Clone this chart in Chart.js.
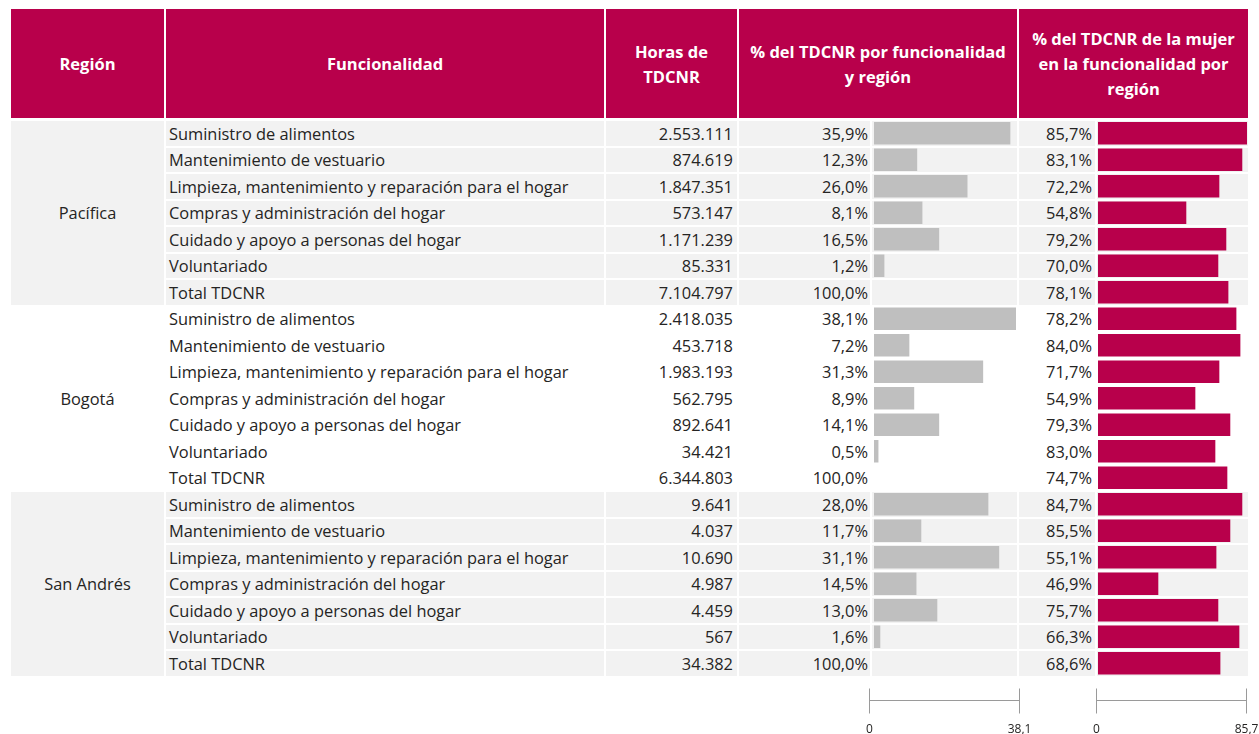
<!DOCTYPE html>
<html>
<head>
<meta charset="utf-8">
<script src="https://cdn.jsdelivr.net/npm/chart.js@4.4.1/dist/chart.umd.min.js"></script>
<style>
html,body{margin:0;padding:0;background:#fff;}
#wrap{position:relative;width:1259px;height:734px;overflow:hidden;font-family:"Open Sans",sans-serif;color:#252423;}
.cell{position:absolute;box-sizing:border-box;}
.bg{background:#f2f2f2;}
.hdr{position:absolute;box-sizing:border-box;background:#B8004B;color:#fff;font-weight:700;font-size:16.5px;line-height:25px;display:flex;align-items:center;justify-content:center;text-align:center;}
.txt{position:absolute;font-size:16.4px;white-space:nowrap;}
.chartbox{position:absolute;}
</style>
</head>
<body>
<div id="wrap"></div>
<script>
// ---------------- DATA ----------------
const headerLabels = [
  ['Región'],
  ['Funcionalidad'],
  ['Horas de', 'TDCNR'],
  ['% del TDCNR por funcionalidad', 'y región'],
  ['% del TDCNR de la mujer', 'en la funcionalidad por', 'región']
];
const regions = ['Pacífica', 'Bogotá', 'San Andrés'];
const functions = [
  'Suministro de alimentos',
  'Mantenimiento de vestuario',
  'Limpieza, mantenimiento y reparación para el hogar',
  'Compras y administración del hogar',
  'Cuidado y apoyo a personas del hogar',
  'Voluntariado',
  'Total TDCNR'
];
// Horas de TDCNR
const hoursPacifica  = [2553111, 874619, 1847351, 573147, 1171239, 85331, 7104797];
const hoursBogota    = [2418035, 453718, 1983193, 562795, 892641, 34421, 6344803];
const hoursSanAndres = [9641, 4037, 10690, 4987, 4459, 567, 34382];
// % del TDCNR por funcionalidad y región (labels)
const sharePacifica  = [35.9, 12.3, 26.0, 8.1, 16.5, 1.2, 100.0];
const shareBogota    = [38.1, 7.2, 31.3, 8.9, 14.1, 0.5, 100.0];
const shareSanAndres = [28.0, 11.7, 31.1, 14.5, 13.0, 1.6, 100.0];
// % del TDCNR de la mujer (labels)
const womenPacifica  = [85.7, 83.1, 72.2, 54.8, 79.2, 70.0, 78.1];
const womenBogota    = [78.2, 84.0, 71.7, 54.9, 79.3, 83.0, 74.7];
const womenSanAndres = [84.7, 85.5, 55.1, 46.9, 75.7, 66.3, 68.6];
// Bar lengths as drawn in the reference
const shareBarPacifica  = [36.5, 11.5, 25.0, 12.9, 17.4, 2.7, null];
const shareBarBogota    = [38.1, 9.4, 29.2, 10.7, 17.4, 1.1, null];
const shareBarSanAndres = [30.6, 12.6, 33.5, 11.3, 16.9, 1.6, null];
const womenBarPacifica  = [85.7, 82.8, 69.6, 50.6, 73.6, 69.0, 74.8];
const womenBarBogota    = [79.4, 81.7, 69.6, 55.8, 75.9, 67.3, 74.2];
const womenBarSanAndres = [82.8, 75.9, 67.9, 34.5, 69.0, 81.1, 70.2];
// Axis tick labels (min, max)
const shareAxisTicks = [0, 38.1];
const womenAxisTicks = [0, 85.7];

// ---------------- HELPERS ----------------
const hoursByRegion = [hoursPacifica, hoursBogota, hoursSanAndres];
const shareByRegion = [sharePacifica, shareBogota, shareSanAndres];
const womenByRegion = [womenPacifica, womenBogota, womenSanAndres];
const shareBars = [].concat(shareBarPacifica, shareBarBogota, shareBarSanAndres);
const womenBars = [].concat(womenBarPacifica, womenBarBogota, womenBarSanAndres);
const categories = [];
regions.forEach(r => functions.forEach(f => categories.push(r + ' – ' + f)));

const fmtInt = n => String(n).replace(/\B(?=(\d{3})+(?!\d))/g, '.');
const fmtPct = n => n.toFixed(1).replace('.', ',') + '%';
const fmtDec = n => String(n).replace('.', ',');

// ---------------- LAYOUT ----------------
const wrap = document.getElementById('wrap');
const HDR_TOP = 9, HDR_H = 109;
const ROWS_TOP = 121, PITCH = 26.5, GAP = 2;
const hdrCols = [[11,164],[166,604],[606,737],[739,1017],[1019,1248]];
const col = {
  region:[11,164], func:[166,604], hours:[606,737],
  shareTxt:[739,870], shareBar:[872,1017], womenTxt:[1019,1095], womenBar:[1097,1248]
};

function el(cls, x0, y0, w, h, html, style) {
  const d = document.createElement('div');
  d.className = cls;
  d.style.left = x0 + 'px'; d.style.top = y0 + 'px';
  d.style.width = w + 'px'; d.style.height = h + 'px';
  if (html !== undefined) d.innerHTML = html;
  if (style) Object.assign(d.style, style);
  wrap.appendChild(d);
  return d;
}

headerLabels.forEach((lines, i) => {
  const [a, b] = hdrCols[i];
  el('hdr', a, HDR_TOP, b - a, HDR_H, '<div>' + lines.join('<br>') + '</div>');
});

const rowTop = i => Math.round(ROWS_TOP + i * PITCH);
const rowBot = i => Math.round(ROWS_TOP + (i + 1) * PITCH) - GAP;

regions.forEach((reg, g) => {
  const shaded = g !== 1;
  const gTop = rowTop(g * 7), gBot = rowBot(g * 7 + 6);
  el('cell' + (shaded ? ' bg' : ''), col.region[0], gTop, col.region[1] - col.region[0], gBot - gTop);
  el('txt', col.region[0], gTop, col.region[1] - col.region[0], gBot - gTop, reg,
     {textAlign:'center', lineHeight:(gBot - gTop) + 'px'});
  functions.forEach((fn, k) => {
    const i = g * 7 + k;
    const t = rowTop(i), h = rowBot(i) - t;
    if (shaded) {
      ['func','hours','shareTxt','shareBar','womenTxt','womenBar'].forEach(c => {
        el('cell bg', col[c][0], t, col[c][1] - col[c][0], h);
      });
    }
    const lh = {lineHeight: h + 'px'};
    el('txt', col.func[0] + 3, t, col.func[1] - col.func[0] - 3, h, fn, lh);
    el('txt', col.hours[0], t, col.hours[1] - col.hours[0] - 4, h, fmtInt(hoursByRegion[g][k]), Object.assign({textAlign:'right'}, lh));
    el('txt', col.shareTxt[0], t, col.shareTxt[1] - col.shareTxt[0] - 2, h, fmtPct(shareByRegion[g][k]), Object.assign({textAlign:'right'}, lh));
    el('txt', col.womenTxt[0], t, col.womenTxt[1] - col.womenTxt[0] - 3, h, fmtPct(womenByRegion[g][k]), Object.assign({textAlign:'right'}, lh));
  });
});

// ---------------- CHARTS ----------------
const endAxis = {
  id: 'endAxis',
  afterDraw(chart, args, opts) {
    const {ctx, chartArea, scales: {x}} = chart;
    const y = Math.round(chartArea.bottom + opts.offset) + 0.5;
    const x0 = Math.round(x.getPixelForValue(opts.ticks[0]) - opts.extendLeft) + 0.5;
    const x1 = Math.round(x.getPixelForValue(opts.ticks[1]) + opts.extendRight) + 0.5;
    ctx.save();
    ctx.strokeStyle = '#9a9a9a';
    ctx.lineWidth = 1;
    ctx.beginPath();
    ctx.moveTo(x0, y); ctx.lineTo(x1, y);
    ctx.moveTo(x0, y - 12); ctx.lineTo(x0, y + 13);
    ctx.moveTo(x1, y - 12); ctx.lineTo(x1, y + 13);
    ctx.stroke();
    ctx.fillStyle = '#252423';
    ctx.font = '12px "Open Sans"';
    ctx.textAlign = 'center';
    ctx.textBaseline = 'middle';
    ctx.fillText(fmtDec(opts.ticks[0]), x0, y + 29);
    ctx.fillText(fmtDec(opts.ticks[1]), x1, y + 29);
    ctx.restore();
  }
};

const CH_TOP = 110, CH_H = 630;
const AREA_TOP = 120, AREA_H = 21 * PITCH;

function makeChart(left, width, padL, padR, data, color, ticks, extL, extR) {
  const box = el('chartbox', left, CH_TOP, width, CH_H);
  const cv = document.createElement('canvas');
  cv.width = width; cv.height = CH_H;
  cv.style.width = width + 'px'; cv.style.height = CH_H + 'px';
  box.appendChild(cv);
  const padTop = AREA_TOP - CH_TOP;
  const padBottom = CH_H - padTop - AREA_H;
  return new Chart(cv, {
    type: 'bar',
    data: { labels: categories, datasets: [{ data: data, backgroundColor: color, barThickness: 22, borderWidth: 0 }] },
    options: {
      indexAxis: 'y',
      responsive: false,
      animation: false,
      devicePixelRatio: 1,
      layout: { padding: { left: padL, right: padR, top: padTop, bottom: padBottom } },
      scales: {
        x: { display: false, min: ticks[0], max: ticks[1] },
        y: { display: false }
      },
      plugins: {
        legend: { display: false },
        tooltip: { enabled: false },
        endAxis: { offset: 23, ticks: ticks, extendLeft: extL, extendRight: extR }
      }
    },
    plugins: [endAxis]
  });
}

makeChart(860, 180, 14, 24, shareBars, '#BFBFBF', shareAxisTicks, 5, 3);
makeChart(1088, 171, 10, 12, womenBars, '#B8004B', womenAxisTicks, 2, -1);
</script>
</body>
</html>
